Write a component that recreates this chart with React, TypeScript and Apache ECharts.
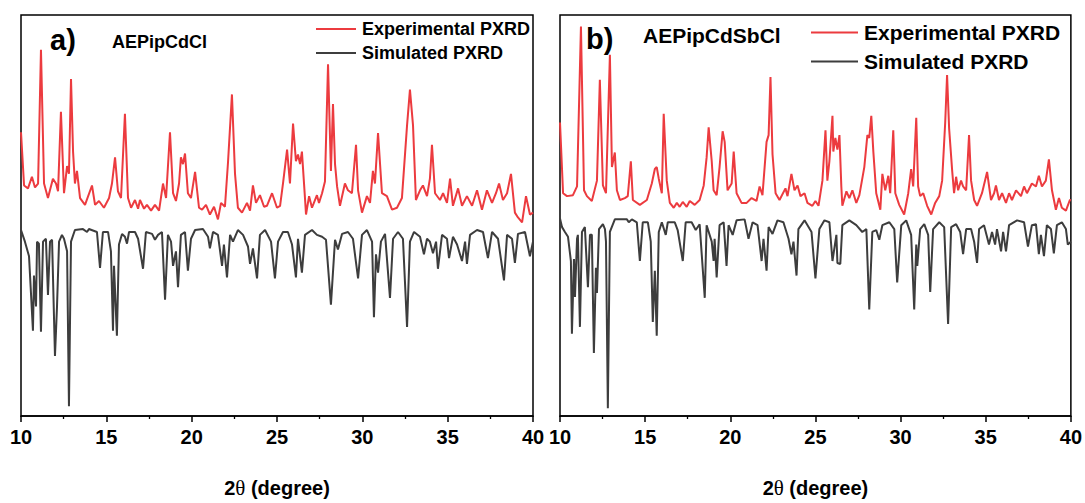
import React, { useEffect, useRef } from "react";
import * as echarts from "echarts";

// 2θ (degree), intensity (a.u., offset for display)
const expA: [number, number][] = [
  [10.0, 293], [10.18, 238], [10.41, 235], [10.64, 247], [10.82, 236], [11.0, 240], [11.17, 378], [11.35, 240],
  [11.58, 225], [11.87, 245], [12.05, 240], [12.17, 232], [12.34, 314], [12.52, 230], [12.7, 258], [12.81, 250],
  [12.93, 348], [13.05, 273], [13.16, 240], [13.28, 253], [13.46, 225], [13.75, 218], [14.16, 238], [14.34, 218],
  [14.57, 222], [14.86, 215], [15.16, 225], [15.33, 240], [15.51, 267], [15.68, 232], [15.86, 225], [16.09, 312],
  [16.27, 225], [16.45, 215], [16.68, 223], [16.86, 214], [16.97, 223], [17.21, 214], [17.38, 218], [17.62, 212],
  [17.85, 218], [18.09, 212], [18.32, 240], [18.5, 225], [18.73, 293], [18.91, 230], [19.08, 222], [19.26, 240],
  [19.37, 267], [19.49, 260], [19.61, 271], [19.78, 230], [19.96, 225], [20.2, 252], [20.43, 215], [20.61, 213],
  [20.84, 218], [21.07, 208], [21.31, 216], [21.54, 203], [21.72, 220], [21.95, 216], [22.13, 262], [22.36, 332],
  [22.54, 250], [22.71, 215], [22.95, 210], [23.24, 220], [23.42, 212], [23.59, 238], [23.77, 220], [24.0, 228],
  [24.24, 216], [24.41, 217], [24.71, 230], [25.0, 215], [25.18, 217], [25.35, 240], [25.59, 275], [25.76, 240],
  [25.94, 302], [26.11, 263], [26.23, 270], [26.35, 260], [26.46, 273], [26.64, 225], [26.7, 208], [26.88, 227],
  [27.05, 215], [27.34, 228], [27.46, 220], [27.64, 230], [27.81, 242], [27.99, 363], [28.16, 253], [28.28, 322],
  [28.4, 260], [28.52, 237], [28.69, 217], [28.98, 240], [29.16, 233], [29.39, 230], [29.63, 280], [29.75, 233],
  [29.98, 210], [30.27, 227], [30.45, 220], [30.62, 253], [30.74, 240], [30.92, 292], [31.15, 230], [31.44, 227],
  [31.74, 213], [32.03, 215], [32.32, 225], [32.62, 300], [32.79, 337], [32.97, 300], [33.14, 223], [33.38, 233],
  [33.55, 238], [33.79, 227], [33.96, 245], [34.08, 280], [34.26, 230], [34.55, 223], [34.73, 230], [34.96, 220],
  [35.14, 245], [35.31, 217], [35.61, 235], [35.84, 217], [36.13, 227], [36.43, 217], [36.72, 233], [37.01, 213],
  [37.3, 233], [37.6, 220], [37.83, 230], [38.01, 240], [38.24, 223], [38.48, 230], [38.71, 250], [38.94, 210],
  [39.12, 205], [39.36, 200], [39.59, 227], [39.82, 208], [40.0, 210],
];

const simA: [number, number][] = [
  [10.0, 192], [10.23, 180], [10.47, 165], [10.7, 88], [10.76, 145], [10.88, 113], [10.94, 180], [11.05, 178],
  [11.17, 87], [11.29, 180], [11.46, 183], [11.58, 125], [11.7, 180], [11.82, 182], [11.99, 62], [12.11, 113],
  [12.23, 180], [12.4, 187], [12.52, 183], [12.7, 170], [12.81, 10], [12.93, 180], [13.16, 192], [13.63, 193],
  [13.87, 190], [13.98, 193], [14.45, 190], [14.63, 153], [14.8, 190], [15.1, 190], [15.27, 170], [15.39, 88],
  [15.45, 155], [15.62, 83], [15.74, 177], [15.92, 188], [16.09, 185], [16.21, 178], [16.33, 190], [16.68, 190],
  [16.86, 183], [17.15, 152], [17.32, 190], [17.68, 188], [17.85, 182], [18.03, 187], [18.26, 190], [18.44, 120],
  [18.61, 187], [18.79, 180], [18.91, 155], [19.08, 170], [19.2, 133], [19.37, 187], [19.61, 190], [19.78, 150],
  [19.96, 183], [20.2, 192], [20.66, 193], [20.96, 185], [21.07, 173], [21.25, 190], [21.54, 187], [21.78, 155],
  [21.89, 177], [22.07, 143], [22.25, 187], [22.42, 180], [22.71, 192], [23.01, 187], [23.3, 175], [23.42, 157],
  [23.59, 173], [23.83, 142], [24.0, 187], [24.3, 192], [24.65, 180], [24.88, 142], [25.06, 180], [25.35, 190],
  [25.64, 190], [25.88, 177], [26.11, 143], [26.23, 183], [26.46, 148], [26.64, 187], [27.05, 192], [27.34, 187],
  [27.64, 185], [27.87, 182], [28.16, 115], [28.4, 182], [28.57, 172], [28.81, 188], [29.16, 190], [29.45, 183],
  [29.75, 142], [29.98, 187], [30.27, 192], [30.57, 180], [30.68, 102], [30.8, 167], [30.92, 148], [31.09, 180],
  [31.33, 188], [31.62, 122], [31.8, 183], [32.09, 190], [32.38, 183], [32.62, 92], [32.79, 180], [33.03, 190],
  [33.38, 185], [33.61, 167], [33.79, 183], [33.96, 180], [34.14, 168], [34.32, 180], [34.43, 152], [34.67, 187],
  [34.96, 183], [35.08, 163], [35.31, 185], [35.55, 177], [35.84, 160], [36.02, 180], [36.13, 157], [36.31, 187],
  [36.72, 192], [37.07, 190], [37.36, 163], [37.6, 190], [37.95, 183], [38.3, 140], [38.48, 187], [38.77, 183],
  [38.94, 158], [39.12, 188], [39.53, 190], [39.82, 165], [40.0, 180],
];

const expB: [number, number][] = [
  [10.0, 303], [10.18, 230], [10.41, 227], [10.76, 228], [11.0, 237], [11.23, 402], [11.41, 233], [11.58, 227],
  [11.87, 222], [12.17, 243], [12.34, 347], [12.52, 238], [12.7, 230], [12.93, 373], [13.05, 257], [13.22, 272],
  [13.34, 233], [13.52, 223], [13.81, 225], [13.98, 227], [14.16, 263], [14.28, 223], [14.69, 218], [15.1, 223],
  [15.39, 240], [15.57, 255], [15.68, 257], [15.8, 245], [15.98, 230], [16.09, 312], [16.27, 243], [16.45, 220],
  [16.68, 215], [16.86, 220], [17.03, 216], [17.21, 221], [17.44, 216], [17.62, 222], [17.91, 218], [18.2, 223],
  [18.44, 238], [18.61, 267], [18.73, 298], [18.91, 263], [19.02, 233], [19.2, 228], [19.37, 257], [19.55, 294],
  [19.67, 283], [19.84, 233], [20.08, 240], [20.2, 273], [20.37, 230], [20.66, 220], [20.96, 220], [21.25, 225],
  [21.54, 222], [21.72, 237], [21.89, 228], [22.13, 283], [22.25, 290], [22.36, 350], [22.48, 270], [22.66, 230],
  [22.89, 223], [23.24, 235], [23.36, 227], [23.59, 250], [23.77, 233], [23.95, 238], [24.12, 227], [24.36, 230],
  [24.53, 220], [24.82, 217], [25.0, 222], [25.18, 217], [25.41, 243], [25.59, 295], [25.7, 243], [25.82, 263],
  [26.0, 310], [26.05, 273], [26.17, 287], [26.29, 275], [26.41, 290], [26.52, 237], [26.58, 217], [26.82, 232],
  [26.99, 225], [27.17, 233], [27.4, 220], [27.58, 228], [27.87, 257], [28.05, 290], [28.16, 287], [28.28, 310],
  [28.4, 273], [28.57, 230], [28.81, 213], [28.93, 250], [29.1, 233], [29.28, 248], [29.39, 230], [29.57, 295],
  [29.69, 230], [29.92, 218], [30.21, 208], [30.45, 230], [30.62, 255], [30.74, 237], [30.92, 308], [31.03, 237],
  [31.15, 227], [31.33, 230], [31.56, 217], [31.8, 208], [32.03, 220], [32.27, 227], [32.44, 243], [32.62, 303],
  [32.73, 352], [32.85, 297], [33.03, 253], [33.14, 230], [33.26, 247], [33.38, 233], [33.55, 243], [33.67, 237],
  [33.85, 233], [34.02, 290], [34.14, 243], [34.32, 223], [34.49, 217], [34.78, 230], [35.08, 252], [35.31, 223],
  [35.49, 230], [35.6, 238], [35.78, 223], [35.96, 230], [36.19, 220], [36.37, 230], [36.54, 223], [36.78, 233],
  [37.07, 227], [37.25, 237], [37.42, 230], [37.71, 240], [37.95, 237], [38.12, 248], [38.3, 237], [38.53, 243],
  [38.71, 265], [38.89, 233], [39.12, 213], [39.3, 225], [39.47, 215], [39.71, 212], [39.94, 223], [40.0, 223],
];

const simB: [number, number][] = [
  [10.0, 204], [10.12, 195], [10.29, 190], [10.47, 185], [10.64, 160], [10.7, 85], [10.82, 162], [10.88, 123],
  [11.0, 183], [11.05, 187], [11.17, 92], [11.29, 190], [11.46, 195], [11.64, 133], [11.76, 187], [11.87, 187],
  [11.99, 65], [12.11, 153], [12.17, 127], [12.29, 193], [12.52, 198], [12.64, 193], [12.7, 180], [12.81, 8],
  [12.93, 190], [13.22, 203], [13.93, 203], [14.04, 200], [14.22, 203], [14.51, 200], [14.69, 160], [14.86, 200],
  [15.16, 200], [15.33, 180], [15.45, 97], [15.57, 150], [15.68, 83], [15.8, 190], [15.98, 200], [16.21, 187],
  [16.33, 200], [16.74, 200], [16.91, 192], [17.21, 160], [17.38, 200], [17.73, 200], [17.97, 192], [18.2, 198],
  [18.5, 122], [18.61, 197], [18.91, 180], [19.02, 160], [19.08, 183], [19.2, 143], [19.37, 197], [19.61, 200],
  [19.78, 155], [19.9, 197], [20.14, 187], [20.37, 202], [20.84, 203], [21.07, 183], [21.31, 200], [21.6, 197],
  [21.84, 160], [21.95, 183], [22.13, 150], [22.25, 195], [22.48, 188], [22.77, 202], [23.12, 200], [23.42, 183],
  [23.59, 167], [23.71, 180], [23.89, 145], [24.0, 193], [24.36, 202], [24.77, 190], [25.0, 142], [25.23, 193],
  [25.53, 202], [25.82, 200], [26.0, 160], [26.23, 187], [26.29, 158], [26.46, 157], [26.58, 197], [26.99, 202],
  [27.4, 197], [27.75, 190], [27.99, 193], [28.16, 110], [28.34, 190], [28.57, 192], [28.75, 182], [28.93, 197],
  [29.34, 200], [29.63, 193], [29.8, 138], [30.04, 197], [30.33, 202], [30.62, 187], [30.8, 110], [30.92, 177],
  [30.98, 155], [31.15, 193], [31.39, 198], [31.62, 187], [31.74, 128], [31.91, 193], [32.27, 200], [32.56, 195],
  [32.79, 95], [32.97, 195], [33.26, 198], [33.5, 190], [33.67, 167], [33.85, 193], [34.14, 193], [34.32, 180],
  [34.49, 158], [34.61, 193], [34.9, 197], [35.19, 177], [35.37, 190], [35.55, 177], [35.66, 193], [35.9, 170],
  [36.02, 190], [36.19, 170], [36.37, 197], [36.84, 202], [37.25, 200], [37.48, 175], [37.71, 197], [37.95, 198],
  [38.12, 167], [38.24, 187], [38.42, 165], [38.59, 197], [38.83, 193], [39.0, 168], [39.18, 197], [39.47, 200],
  [39.71, 193], [39.82, 177], [40.0, 180],
];

const xTicks = [10, 15, 20, 25, 30, 35, 40];
const seriesNames = ["Experimental PXRD", "Simulated PXRD"];
const sampleNames = ["AEPipCdCl", "AEPipCdSbCl"];
const panelLabels = ["a)", "b)"];
const axisTitle = ["2", "θ", " (degree)"];

const RED = "#ec3b3f";
const GRAY = "#3d3d3d";
const FONT = "'Liberation Sans', Arial, sans-serif";

export default function App() {
  const ref = useRef<HTMLDivElement>(null);
  useEffect(() => {
    if (!ref.current) return;
    const chart = echarts.init(ref.current, undefined, { renderer: "svg" });
    const grids = [
      { left: 21, top: 15, width: 512, height: 414 },
      { left: 560, top: 15, width: 512, height: 414 },
    ];
    const xAxis = grids.map((_, i) => ({
      type: "value",
      gridIndex: i,
      min: xTicks[0],
      max: xTicks[xTicks.length - 1],
      interval: xTicks[1] - xTicks[0],
      axisLine: { show: true, lineStyle: { color: "#000", width: 1.5 } },
      axisTick: { show: true, inside: false, length: 6, lineStyle: { color: "#000", width: 1.5 } },
      minorTick: { show: true, splitNumber: 2, length: 3, lineStyle: { color: "#000", width: 1.3 } },
      splitLine: { show: false },
      axisLabel: {
        color: "#000",
        fontFamily: FONT,
        fontWeight: "bold",
        fontSize: 20,
        margin: 11,
      },
      name: `{b|${axisTitle[0]}}{t|${axisTitle[1]}}{b|${axisTitle[2]}}`,
      nameLocation: "middle",
      nameGap: 61,
      nameTextStyle: {
        rich: {
          b: { fontFamily: FONT, fontWeight: "bold", fontSize: 20, color: "#000" },
          t: { fontFamily: "'Liberation Serif', serif", fontSize: 21, color: "#000" },
        },
      },
    }));
    const yAxis = grids.map((_, i) => ({
      type: "value",
      gridIndex: i,
      min: 0,
      max: 414,
      show: false,
    }));
    const data = [
      [expA, simA],
      [expB, simB],
    ];
    const series: any[] = [];
    data.forEach((pair, i) => {
      pair.forEach((d, j) => {
        series.push({
          type: "line",
          name: seriesNames[j],
          xAxisIndex: i,
          yAxisIndex: i,
          data: d,
          symbol: "none",
          lineStyle: { color: j === 0 ? RED : GRAY, width: 2 },
          itemStyle: { color: j === 0 ? RED : GRAY },
          z: 3,
        });
      });
    });
    const legendCfg = [
      { left: 311, top: 15, fs: 18, w: 40, gap: 6 },
      { left: 806, top: 17, fs: 21, w: 47, gap: 8 },
    ];
    const legend = legendCfg.map((c) => ({
      left: c.left,
      top: c.top,
      orient: "vertical",
      itemWidth: c.w,
      itemHeight: 2,
      itemGap: c.gap,
      data: seriesNames.map((n) => ({ name: n, icon: "rect" })),
      textStyle: { fontFamily: FONT, fontWeight: "bold", fontSize: c.fs, color: "#000", padding: [0, 0, 0, 1] },
      selectedMode: false,
    }));
    const graphic = [
      { type: "text", left: 50, top: 25, style: { text: panelLabels[0], font: `bold 29px ${FONT}`, fill: "#000" } },
      { type: "text", left: 112, top: 33, style: { text: sampleNames[0], font: `bold 18px ${FONT}`, fill: "#000" } },
      { type: "text", left: 586, top: 24, style: { text: panelLabels[1], font: `bold 29px ${FONT}`, fill: "#000" } },
      { type: "text", left: 643, top: 25, style: { text: sampleNames[1], font: `bold 21px ${FONT}`, fill: "#000" } },
    ];
    chart.setOption({
      animation: false,
      backgroundColor: "#fff",
      grid: grids.map((g) => ({ ...g, show: true, borderColor: "#000", borderWidth: 1.5, backgroundColor: "transparent" })),
      xAxis,
      yAxis,
      series,
      legend,
      graphic,
    } as any);
    return () => chart.dispose();
  }, []);
  return (
    <div
      ref={ref}
      style={{ position: "fixed", left: 0, top: 0, width: 1085, height: 503, background: "#fff" }}
    />
  );
}
